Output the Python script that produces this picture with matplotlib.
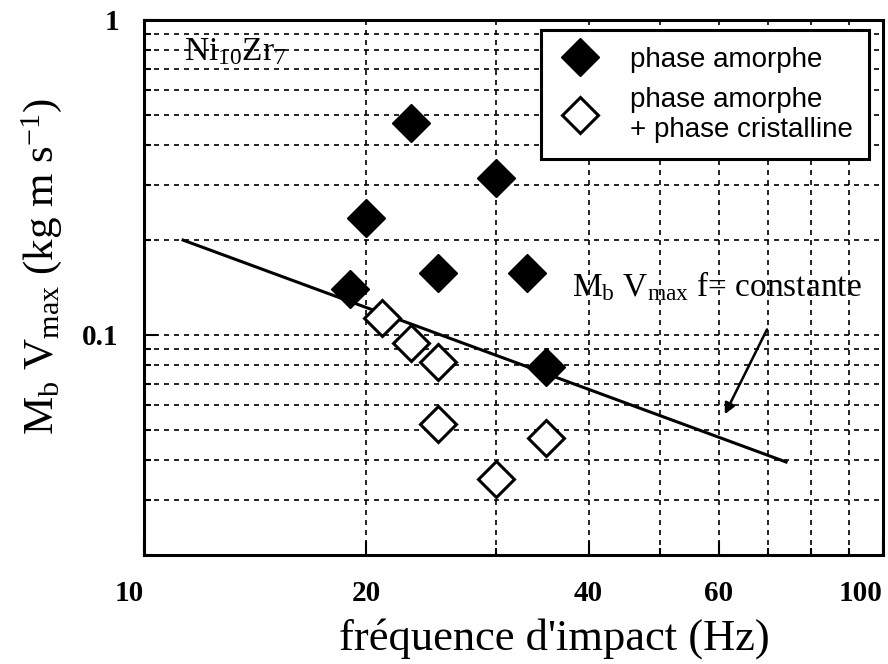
import numpy as np
import matplotlib.pyplot as plt
from matplotlib.ticker import FixedLocator, NullFormatter

# Ni10Zr7 : quantite de mouvement max vs frequence d'impact
freq_amorphe = [19, 20, 23, 25, 30, 33, 35]
mv_amorphe = [0.14, 0.235, 0.47, 0.157, 0.315, 0.157, 0.079]

freq_mixte = [21, 23, 25, 25, 30, 35]
mv_mixte = [0.113, 0.094, 0.082, 0.052, 0.035, 0.047]

# droite M_b V_max f = constante (extremites)
line_f = [11.3, 74]
line_mv = [0.2, 0.0395]

x_ticks = [10, 20, 40, 60, 100]
x_minor = [30, 50, 70, 80, 90]
y_ticks = [0.1, 1]

serif = 'Liberation Serif'
sans = 'Liberation Sans'
plt.rcParams['mathtext.fontset'] = 'custom'
plt.rcParams['mathtext.rm'] = serif
plt.rcParams['mathtext.it'] = serif + ':italic'
plt.rcParams['mathtext.bf'] = serif + ':bold'

fig = plt.figure(figsize=(8.88, 6.64), dpi=100)
ax = fig.add_axes([0.162, 0.164, 0.832, 0.806])
ax.set_xscale('log')
ax.set_yscale('log')
ax.set_xlim(10, 100)
ax.set_ylim(0.02, 1)

ax.plot(line_f, line_mv, color='black', lw=2.2, zorder=3)
ax.plot(freq_amorphe, mv_amorphe, 'D', color='black', ms=19, ls='none',
        label='phase amorphe', zorder=4)
ax.plot(freq_mixte, mv_mixte, 'D', mfc='white', mec='black', mew=2.2, ms=18,
        ls='none', label='phase amorphe\n+ phase cristalline', zorder=4)

# ticks
ax.xaxis.set_major_locator(FixedLocator(x_ticks))
ax.xaxis.set_minor_locator(FixedLocator(x_minor))
ax.set_xticklabels([str(t) for t in x_ticks])
ax.xaxis.set_minor_formatter(NullFormatter())
ax.yaxis.set_major_locator(FixedLocator(y_ticks))
ax.set_yticklabels(['0.1', '1'])
ax.yaxis.set_minor_formatter(NullFormatter())
ax.tick_params(which='both', direction='in', top=False, right=False, width=1.5)
ax.tick_params(which='major', length=10, pad=18)
ax.tick_params(which='minor', length=5)
for lab in ax.get_xticklabels() + ax.get_yticklabels():
    lab.set_fontfamily(serif)
    lab.set_fontsize(21)
    lab.set_fontweight('bold')
ax.get_xticklabels()[-1].set_ha('right')
ax.get_xticklabels()[0].set_ha('right')

ax.grid(True, which='both', color='black', ls=(0, (3, 3)), lw=1.2)
for sp in ax.spines.values():
    sp.set_linewidth(2.2)

ax.set_xlabel("fréquence d'impact (Hz)", fontfamily=serif, fontsize=32)
ax.xaxis.set_label_coords(0.556, -0.118)
ax.set_ylabel(r'M$_\mathrm{b}$ V$_\mathrm{max}$ (kg m s$^\mathrm{-1}$)', fontfamily=serif,
              fontsize=31)
ax.yaxis.set_label_coords(-0.108, 0.54)

ax.text(0.055, 0.97, r'Ni$_\mathrm{10}$Zr$_\mathrm{7}$', transform=ax.transAxes,
        fontfamily=serif, fontsize=24, va='top', ha='left')

ax.text(38, 0.133, r'M$_\mathrm{b}$ V$_\mathrm{max}$ f= constante', fontfamily=serif,
        fontsize=24, va='baseline', ha='left')
ax.annotate('', xy=(60.9, 0.055), xytext=(70, 0.106),
            arrowprops=dict(arrowstyle='-|>', color='black', lw=1.8, mutation_scale=16))

leg = ax.legend(loc='upper right', bbox_to_anchor=(0.982, 0.981), fancybox=False,
                framealpha=1, edgecolor='black', prop={'family': sans, 'size': 20},
                handletextpad=1.0, borderpad=0.6, labelspacing=0.5, handlelength=1.6,
                borderaxespad=0, markerscale=1.0)
leg.get_frame().set_linewidth(2.2)

plt.savefig('out.png', dpi=100)
